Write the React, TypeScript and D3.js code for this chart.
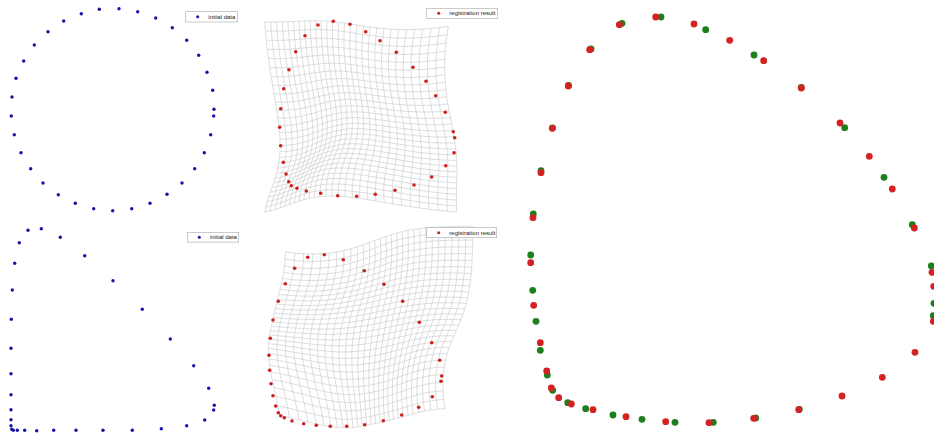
import React, { useMemo } from 'react';
import * as d3 from 'd3';

type P = [number, number];

// ---------- data (panel-local units) ----------
const initialTop: P[] = [
  [99.3, 9.3], [119, 8.7], [137.7, 11.7], [155.7, 18], [172.3, 27.7], [186.7, 40.3],
  [198.7, 55.3], [207, 72.3], [212.7, 90.3], [214, 109.3], [213.7, 116], [210.7, 134.7],
  [204.3, 152.7], [194.7, 168.7], [182, 183], [167, 194.3], [150, 203.3], [131.7, 208.7],
  [112.7, 210.7], [93.7, 208.7], [75.3, 203.3], [58.3, 194.7], [43, 183], [30.7, 168.7],
  [21, 152.7], [14.3, 134.7], [11.3, 116], [12, 97], [16, 78.3], [23.7, 61],
  [34.3, 45], [48, 31.7], [63.7, 21], [81.3, 13.7],
];

const resultTop: P[] = [
  [68, 25], [83.3, 21.3], [100, 24.3], [115.7, 31.7], [130, 40.7], [146.3, 52.3],
  [163, 67.3], [176, 81.3], [185.7, 95.7], [195.3, 112.3], [203.3, 131.7], [204.7, 137.7],
  [204, 152.7], [195.7, 165.7], [181.7, 177], [164, 185], [145, 190.3], [125.3, 194.3],
  [106.7, 196.3], [87.7, 195.7], [70.7, 193.3], [56.3, 191], [47, 188.3], [41.3, 185.7],
  [38.7, 181.7], [36, 174], [33.3, 162.3], [30.7, 145.7], [29.7, 127.3], [30.7, 108.7],
  [33.7, 88.7], [39, 69.7], [45.7, 51.7], [55, 35.7],
];

const initialBottom: P[] = [
  [28, 15.3], [41.3, 13.7], [60.3, 22.3], [84.7, 40.7], [113, 65.7], [142.3, 94.3],
  [170.3, 124], [193.7, 150.7], [208.7, 173.3], [214.3, 190.3], [213.7, 195], [204.7, 205],
  [186.7, 210.7], [161.3, 213.7], [132.3, 215.3], [103, 215.3], [76, 215.3], [53.7, 215.3],
  [36.7, 215.7], [24.7, 215.3], [17.3, 215.3], [13.3, 215.3], [11.7, 214.3], [11, 210.7],
  [11, 204.7], [11, 194.7], [11, 179.7], [11, 158.7], [11, 133.3], [11.3, 104.3],
  [12.3, 75], [14.7, 48.3], [19.3, 27.7],
];

const resultBottom: P[] = [
  [57.7, 42.3], [74.3, 39.7], [93.3, 44.7], [114.3, 55.7], [134, 69.3], [152.7, 86.3],
  [169.3, 107.3], [181.7, 127.7], [189.7, 145.3], [191.7, 161], [191, 166.3], [182.3, 181.7],
  [168.7, 192.3], [151.7, 200], [133.3, 205.7], [114.7, 209.7], [96.7, 211.3], [80.3, 211.3],
  [66.3, 210.3], [53.7, 208.7], [42, 206], [34.3, 202.7], [30.7, 200.7], [28.3, 197.7],
  [25.7, 191], [23, 180.7], [21, 168.7], [19.7, 155.3], [19, 140.3], [20.3, 123.3],
  [23, 105], [28.3, 86.3], [35.3, 68.7], [44.7, 53.3],
];

const targetRight: P[] = [
  [26, 321.3], [22.7, 290.3], [20.7, 255], [23.3, 214], [31, 170.7], [42.5, 127.8],
  [58.5, 85.5], [81, 49], [112, 23.3], [151, 17], [195.7, 29.7], [244, 55],
  [291.3, 87.3], [334.7, 127.7], [374, 177.3], [402.3, 224.7], [421.3, 266], [424, 303.3],
  [423.3, 315.7], [289.3, 409.3], [245.7, 418], [203.3, 422.3], [165, 422.3], [132, 419.3],
  [103, 415], [75.7, 408.7], [57.7, 402.7], [42.7, 390.3], [37.3, 375], [30.3, 350.3],
];

const resultRight: P[] = [
  [23.7, 305.3], [20.7, 262.7], [23, 217.7], [31, 172.7], [42.3, 128.3], [58.3, 86],
  [79.7, 49.7], [109.3, 24.7], [145.7, 17], [184, 24], [219.7, 40.3], [253.7, 60.7],
  [291.3, 88], [330, 123], [359.3, 156.3], [382.3, 189], [404.3, 228], [422, 272.3],
  [423.7, 286.3], [423.3, 321.3], [405, 352.3], [372.3, 377.3], [332, 396], [288.7, 409.7],
  [243.7, 418.3], [199, 422.7], [155.7, 421.7], [116, 416.7], [83, 409.7], [61.3, 404],
  [48.7, 397.7], [41.3, 388], [36.7, 371], [30.3, 342.7],
];

const legendInitial = 'initial data';
const legendResult = 'registration result';

// ---------- warp (Gaussian RBF, CPD-like) ----------
function solve(A: number[][], B: number[][]): number[][] {
  const n = A.length;
  const M = A.map((row, i) => [...row, ...B[i]]);
  const m = B[0].length;
  for (let c = 0; c < n; c++) {
    let piv = c;
    for (let r = c + 1; r < n; r++) if (Math.abs(M[r][c]) > Math.abs(M[piv][c])) piv = r;
    [M[c], M[piv]] = [M[piv], M[c]];
    const d = M[c][c];
    for (let k = c; k < n + m; k++) M[c][k] /= d;
    for (let r = 0; r < n; r++) {
      if (r === c) continue;
      const f = M[r][c];
      if (f === 0) continue;
      for (let k = c; k < n + m; k++) M[r][k] -= f * M[c][k];
    }
  }
  return M.map((row) => row.slice(n));
}

function makeWarp(src: P[], dst: P[], beta: number, lambda: number) {
  const k = (a: P, b: P) =>
    Math.exp(-((a[0] - b[0]) ** 2 + (a[1] - b[1]) ** 2) / (2 * beta * beta));
  const A = src.map((a, i) => src.map((b, j) => k(a, b) + (i === j ? lambda : 0)));
  const B = src.map((a, i) => [dst[i][0] - a[0], dst[i][1] - a[1]]);
  const W = solve(A, B);
  return (p: P): P => {
    let dx = 0, dy = 0;
    for (let j = 0; j < src.length; j++) {
      const w = k(p, src[j]);
      dx += w * W[j][0];
      dy += w * W[j][1];
    }
    return [p[0] + dx, p[1] + dy];
  };
}

function gridLines(src: P[], warp: (p: P) => P, cells: number, samples: number): P[][] {
  const [x0, x1] = d3.extent(src, (d) => d[0]) as [number, number];
  const [y0, y1] = d3.extent(src, (d) => d[1]) as [number, number];
  const lines: P[][] = [];
  for (let i = 0; i <= cells; i++) {
    const t = i / cells;
    const row: P[] = [];
    const col: P[] = [];
    for (let s = 0; s <= samples; s++) {
      const u = s / samples;
      row.push(warp([x0 + (x1 - x0) * u, y0 + (y1 - y0) * t]));
      col.push(warp([x0 + (x1 - x0) * t, y0 + (y1 - y0) * u]));
    }
    lines.push(row, col);
  }
  return lines;
}

const W = 934;
const H = 435;
const FONT = '"Liberation Sans", Arial, sans-serif';

const BLUE = '#1414a8';
const RED = '#cc1f1f';
const RRED = '#d42222';
const RGREEN = '#1f7f1f';

function Legend({ x, y, w, h, color, label }: any) {
  return (
    <g>
      <rect x={x} y={y} width={w} height={h} fill="#fff" stroke="#a8a8a8" strokeWidth={0.6} />
      <circle cx={x + 12} cy={y + h / 2} r={1.5} fill={color} />
      <text x={x + 22.6} y={y + h / 2} dy="0.35em" fontSize={6} fontFamily={FONT} fill="#222">
        {label}
      </text>
    </g>
  );
}

export default function App() {
  const sx = (ox: number) => d3.scaleLinear().domain([0, 260]).range([ox, ox + 260]);
  const sy = (oy: number) => d3.scaleLinear().domain([0, 220]).range([oy, oy + 220]);

  const x1 = sx(0), y1 = sy(0);
  const x2 = sx(250), y2 = sy(0);
  const x3 = sx(0), y3 = sy(215);
  const x4 = sx(250), y4 = sy(215);
  const xr = d3.scaleLinear().domain([0, 424]).range([510, 934]);
  const yr = d3.scaleLinear().domain([0, 435]).range([0, 435]);

  const grids = useMemo(() => {
    const shift: P = [8, -2];
    const srcTop = initialTop.map((p) => [p[0] + shift[0], p[1] + shift[1]] as P);
    const dstTop = initialTop.map((_, i) => resultTop[(i + 1) % resultTop.length]);
    const wTop = makeWarp(srcTop, dstTop, 64, 0.25);
    const top = gridLines(srcTop, wTop, 28, 70);

    const srcBot = initialBottom.map((p) => [p[0] + shift[0], p[1] + shift[1]] as P);
    const dstBot = initialBottom.map((_, i) => (i <= 21 ? resultBottom[i] : resultBottom[i + 1]));
    const wBot = makeWarp(srcBot, dstBot, 52, 0.15);
    const bot = gridLines(srcBot, wBot, 28, 70);
    return { top, bot };
  }, []);

  const lineTop = d3.line<P>().x((d) => x2(d[0])).y((d) => y2(d[1]));
  const lineBot = d3.line<P>().x((d) => x4(d[0])).y((d) => y4(d[1]));

  return (
    <svg
      width={W}
      height={H}
      viewBox={`0 0 ${W} ${H}`}
      style={{ position: 'absolute', left: 0, top: 0, background: '#fff' }}
    >
      <defs>
        <filter id="soft" x="-50%" y="-50%" width="200%" height="200%">
          <feGaussianBlur stdDeviation="0.45" />
        </filter>
      </defs>
      <rect width={W} height={H} fill="#fff" />

      {/* panel 1 */}
      <g>
        {initialTop.map((d, i) => (
          <circle key={i} cx={x1(d[0])} cy={y1(d[1])} r={1.7} fill={BLUE} />
        ))}
        <Legend x={185.7} y={11.7} w={52} h={10.3} color={BLUE} label={legendInitial} />
      </g>

      {/* panel 2 */}
      <g>
        {grids.top.map((l, i) => (
          <path key={i} d={lineTop(l) || ''} fill="none" stroke="#cfcfcf" strokeWidth={0.7} />
        ))}
        {resultTop.map((d, i) => (
          <circle key={i} cx={x2(d[0])} cy={y2(d[1])} r={1.8} fill={RED} />
        ))}
        <Legend x={426.7} y={8.3} w={70.6} h={10} color={RED} label={legendResult} />
      </g>

      {/* panel 3 */}
      <g>
        {initialBottom.map((d, i) => (
          <circle key={i} cx={x3(d[0])} cy={y3(d[1])} r={1.7} fill={BLUE} />
        ))}
        <Legend x={187.3} y={232.5} w={51.4} h={9.6} color={BLUE} label={legendInitial} />
      </g>

      {/* panel 4 */}
      <g>
        {grids.bot.map((l, i) => (
          <path key={i} d={lineBot(l) || ''} fill="none" stroke="#cfcfcf" strokeWidth={0.7} />
        ))}
        {resultBottom.map((d, i) => (
          <circle key={i} cx={x4(d[0])} cy={y4(d[1])} r={1.8} fill={RED} />
        ))}
        <Legend x={426.7} y={227.7} w={70} h={10} color={RED} label={legendResult} />
      </g>

      {/* right panel */}
      <g filter="url(#soft)">
        {targetRight.map((d, i) => (
          <circle key={i} cx={xr(d[0])} cy={yr(d[1])} r={3.4} fill={RGREEN} />
        ))}
        {resultRight.map((d, i) => (
          <circle key={i} cx={xr(d[0])} cy={yr(d[1])} r={3.4} fill={RRED} />
        ))}
      </g>
    </svg>
  );
}
